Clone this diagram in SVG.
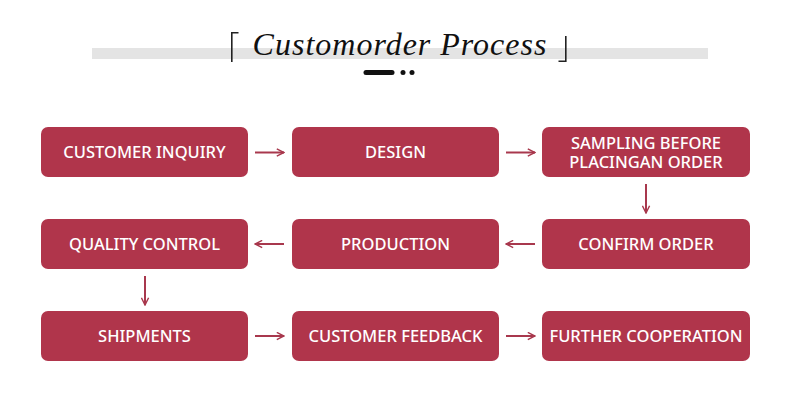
<svg xmlns="http://www.w3.org/2000/svg" width="790" height="415" viewBox="0 0 790 415">
<defs>
<style>
.box{fill:#b0354b}
.lbl{fill:#ffffff;font-family:"Noto Sans","Open Sans",sans-serif;font-weight:500;font-size:16.5px;text-anchor:middle}
.con{stroke:#a8384d;stroke-width:2;fill:none}
.br{stroke:#222;stroke-width:1.6;fill:none}
</style>
<marker id="ah" viewBox="0 0 10 10" refX="9" refY="5" markerWidth="9" markerHeight="9" markerUnits="userSpaceOnUse" orient="auto">
<path d="M1,1 L9,5 L1,9" fill="none" stroke="#a8384d" stroke-width="1.6"/>
</marker>
</defs>
<rect width="790" height="415" fill="#ffffff"/>
<g id="title">
<rect x="92" y="48" width="616" height="11" fill="#e4e4e4"/>
<path class="br" d="M238.5,32.8 H231.8 V62"/>
<path class="br" d="M558.5,61.2 H565.8 V36"/>
<text x="400" y="55" font-family="Liberation Serif,serif" font-style="italic" font-size="32" fill="#111" text-anchor="middle" letter-spacing="1">Customorder Process</text>
<line x1="366" y1="72.5" x2="392" y2="72.5" stroke="#111" stroke-width="5" stroke-linecap="round"/>
<circle cx="403" cy="72.5" r="2.5" fill="#111"/>
<circle cx="412" cy="72.5" r="2.5" fill="#111"/>
</g>
<g id="n1"><rect class="box" x="41" y="127" width="207" height="50" rx="7"/><text class="lbl" x="144.5" y="157.5">CUSTOMER INQUIRY</text></g>
<g id="n2"><rect class="box" x="292" y="127" width="207" height="50" rx="7"/><text class="lbl" x="395.5" y="157.5">DESIGN</text></g>
<g id="n3"><rect class="box" x="542" y="127" width="208" height="50" rx="7"/><text class="lbl"><tspan x="646" y="149">SAMPLING BEFORE</tspan><tspan x="646" y="168">PLACINGAN ORDER</tspan></text></g>
<g id="n4"><rect class="box" x="542" y="219" width="208" height="50" rx="7"/><text class="lbl" x="646" y="249.5">CONFIRM ORDER</text></g>
<g id="n5"><rect class="box" x="292" y="219" width="207" height="50" rx="7"/><text class="lbl" x="395.5" y="249.5">PRODUCTION</text></g>
<g id="n6"><rect class="box" x="41" y="219" width="207" height="50" rx="7"/><text class="lbl" x="144.5" y="249.5">QUALITY CONTROL</text></g>
<g id="n7"><rect class="box" x="41" y="311" width="207" height="50" rx="7"/><text class="lbl" x="144.5" y="341.5">SHIPMENTS</text></g>
<g id="n8"><rect class="box" x="292" y="311" width="207" height="50" rx="7"/><text class="lbl" x="395.5" y="341.5">CUSTOMER FEEDBACK</text></g>
<g id="n9"><rect class="box" x="542" y="311" width="208" height="50" rx="7"/><text class="lbl" x="646" y="341.5">FURTHER COOPERATION</text></g>
<g id="connectors">
<line class="con" x1="255" y1="152.5" x2="284" y2="152.5" marker-end="url(#ah)"/>
<line class="con" x1="506" y1="152.5" x2="535" y2="152.5" marker-end="url(#ah)"/>
<line class="con" x1="646" y1="184" x2="646" y2="213" marker-end="url(#ah)"/>
<line class="con" x1="535" y1="244" x2="506" y2="244" marker-end="url(#ah)"/>
<line class="con" x1="284" y1="244" x2="255" y2="244" marker-end="url(#ah)"/>
<line class="con" x1="145" y1="276" x2="145" y2="305" marker-end="url(#ah)"/>
<line class="con" x1="255" y1="336" x2="284" y2="336" marker-end="url(#ah)"/>
<line class="con" x1="506" y1="336" x2="535" y2="336" marker-end="url(#ah)"/>
</g>
</svg>
